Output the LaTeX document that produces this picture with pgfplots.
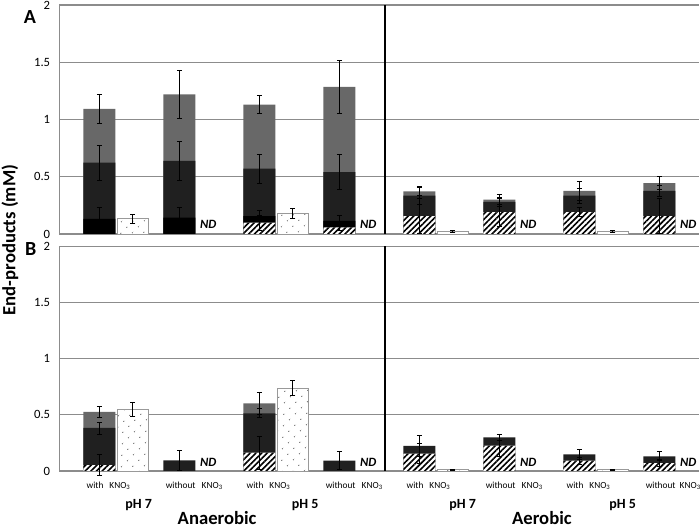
\documentclass[border=0pt]{standalone}
\usepackage{pgfplots}
\pgfplotsset{compat=1.18}
\usetikzlibrary{patterns.meta}
\usepackage{fontspec}
\setmainfont{Carlito}
\definecolor{topgray}{RGB}{104,104,104}
\definecolor{darkseg}{RGB}{32,32,32}
\definecolor{gridgray}{RGB}{140,140,140}
\pgfplotsset{
  panel/.style={
    scale only axis, width=480pt,
    xmin=-0.5, xmax=7.5, ymin=0, ymax=2,
    axis x line*=bottom, axis y line*=left,
    axis line style={gridgray, line width=0.8pt},
    xtick=\empty, ytick={0,0.5,1,1.5,2},
    ymajorgrids, major grid style={gridgray, line width=0.8pt},
    major tick length=0pt,
    yticklabel style={font=\fontsize{9.5}{10}\selectfont, xshift=-3.5pt},
    /pgf/number format/assume math mode=true,
    clip=false,
  },
  seg/.style={ybar, bar width=0.4, bar shift=0pt, draw=none},
  gseg/.style={seg, fill=topgray},
  dseg/.style={seg, fill=darkseg},
  bseg/.style={seg, fill=black},
  hseg/.style={seg, fill=white, postaction={pattern={Lines[angle=45,distance=3pt,line width=1.2pt]}, pattern color=black}},
  dotbar/.style={ybar, bar width=0.39, bar shift=0pt, fill=white, draw=gray!80, line width=0.6pt,
    postaction={pattern={Dots[distance=6.5pt,angle=45,radius=0.6pt]}, pattern color=black!60}},
  errs/.style={draw=none, mark=none,
    error bars/.cd, y dir=both, y explicit,
    error bar style={line width=0.6pt, draw=black, solid},
    error mark options={rotate=90, mark size=2pt, line width=0.6pt, draw=black}},
  sep/.style={black, line width=1.1pt, mark=none},
}
\newcommand{\ndlab}[1]{\node[font=\bfseries\itshape\fontsize{9.5}{9.5}\selectfont] at (axis cs:#1,0.08) {ND};}
\begin{document}
\begin{tikzpicture}
\useasboundingbox (0,0) rectangle (525pt,396pt);
\node[font=\bfseries\fontsize{15}{15}\selectfont] at (22.5pt,383.25pt) {A};
\node[font=\bfseries\fontsize{15}{15}\selectfont] at (23pt,209.25pt) {B};
\node[rotate=90,font=\bfseries\fontsize{14}{14}\selectfont] at (7.5pt,216pt) {End-products (mM)};

% ---------------- Panel A ----------------
\begin{axis}[panel, at={(44.625pt,220.5pt)}, anchor=south west, height=171.75pt]
\addplot[gseg] coordinates {(0,1.092)(1,1.22)(2,1.13)(3,1.284)(4,0.373)(5,0.30)(6,0.376)(7,0.445)};
\addplot[dseg] coordinates {(0,0.623)(1,0.638)(2,0.571)(3,0.541)(4,0.335)(5,0.28)(6,0.335)(7,0.376)};
\addplot[bseg] coordinates {(0,0.131)(1,0.143)(2,0.157)(3,0.114)};
\addplot[hseg] coordinates {(2,0.099)(3,0.058)(4,0.157)(5,0.19)(6,0.192)(7,0.157)};
\addplot[dotbar] coordinates {(0.415,0.134)(2.415,0.18)(4.415,0.02)(6.415,0.02)};
\addplot[errs] coordinates {
 (0,1.092)+-(0,0.125) (1,1.22)+-(0,0.21) (2,1.13)+-(0,0.08) (3,1.284)+-(0,0.235)
 (4,0.373)+-(0,0.04) (5,0.30)+-(0,0.045) (6,0.376)+-(0,0.08) (7,0.445)+-(0,0.055)
 (0,0.623)+-(0,0.155) (1,0.638)+-(0,0.17) (2,0.571)+-(0,0.125) (3,0.541)+-(0,0.155)
 (4,0.335)+-(0,0.075) (5,0.28)+-(0,0.04) (6,0.335)+-(0,0.065) (7,0.376)+-(0,0.05)
 (0,0.131)+-(0,0.10) (1,0.143)+-(0,0.09) (2,0.157)+-(0,0.045) (3,0.114)+-(0,0.045)
 (2,0.099)+-(0,0.065) (3,0.058)+-(0,0.03) (4,0.157)+-(0,0.15) (5,0.19)+-(0,0.12)
 (6,0.192)+-(0,0.04) (7,0.157)+-(0,0.15)
 (0.415,0.134)+-(0,0.038) (2.415,0.18)+-(0,0.04) (4.415,0.02)+-(0,0.01) (6.415,0.02)+-(0,0.008)
};
\addplot[sep] coordinates {(3.57,0)(3.57,2)};
\ndlab{1.36}\ndlab{3.36}\ndlab{5.36}\ndlab{7.36}
\end{axis}

% ---------------- Panel B ----------------
\begin{axis}[panel, at={(44.625pt,42.75pt)}, anchor=south west, height=168.4pt]
\addplot[gseg] coordinates {(0,0.526)(2,0.603)};
\addplot[dseg] coordinates {(0,0.383)(1,0.095)(2,0.514)(3,0.092)(4,0.223)(5,0.30)(6,0.149)(7,0.131)};
\addplot[hseg] coordinates {(0,0.053)(2,0.163)(4,0.155)(5,0.226)(6,0.092)(7,0.071)};
\addplot[dotbar] coordinates {(0.415,0.55)(2.415,0.737)(4.415,0.01)(6.415,0.01)};
\addplot[errs] coordinates {
 (0,0.526)+-(0,0.053) (2,0.603)+-(0,0.10)
 (0,0.383)+-(0,0.054) (1,0.095)+-(0,0.09) (2,0.514)+-(0,0.04) (3,0.092)+-(0,0.08)
 (4,0.223)+-(0,0.095) (5,0.30)+-(0,0.027) (6,0.149)+-(0,0.047) (7,0.131)+-(0,0.041)
 (0,0.053)+-(0,0.096) (2,0.163)+-(0,0.147) (4,0.155)+-(0,0.09) (5,0.226)+-(0,0.1)
 (6,0.092)+-(0,0.03) (7,0.071)+-(0,0.03)
 (0.415,0.55)+-(0,0.065) (2.415,0.737)+-(0,0.067) (4.415,0.01)+-(0,0.005) (6.415,0.01)+-(0,0.006)
};
\addplot[sep] coordinates {(3.57,0)(3.57,2)};
\ndlab{1.36}\ndlab{3.36}\ndlab{5.36}\ndlab{7.36}
% category labels
\begin{scope}[every node/.style={font=\fontsize{7}{8}\selectfont}]
\node at (axis cs:-0.056,0) [yshift=-11pt] {with};
\node at (axis cs:0.256,0) [yshift=-11pt] {KNO\textsubscript{3}};
\node at (axis cs:1.015,0) [yshift=-11pt] {without};
\node at (axis cs:1.41,0) [yshift=-11pt] {KNO\textsubscript{3}};
\node at (axis cs:1.944,0) [yshift=-11pt] {with};
\node at (axis cs:2.256,0) [yshift=-11pt] {KNO\textsubscript{3}};
\node at (axis cs:3.015,0) [yshift=-11pt] {without};
\node at (axis cs:3.41,0) [yshift=-11pt] {KNO\textsubscript{3}};
\node at (axis cs:3.944,0) [yshift=-11pt] {with};
\node at (axis cs:4.256,0) [yshift=-11pt] {KNO\textsubscript{3}};
\node at (axis cs:5.015,0) [yshift=-11pt] {without};
\node at (axis cs:5.41,0) [yshift=-11pt] {KNO\textsubscript{3}};
\node at (axis cs:5.944,0) [yshift=-11pt] {with};
\node at (axis cs:6.256,0) [yshift=-11pt] {KNO\textsubscript{3}};
\node at (axis cs:7.015,0) [yshift=-11pt] {without};
\node at (axis cs:7.385,0) [yshift=-11pt] {KNO\textsubscript{3}};
\end{scope}
\begin{scope}[every node/.style={font=\bfseries\fontsize{10.5}{12}\selectfont}]
\node at (axis cs:0.49,0) [yshift=-25.5pt] {pH 7};
\node at (axis cs:2.57,0) [yshift=-25.5pt] {pH 5};
\node at (axis cs:4.54,0) [yshift=-25.5pt] {pH 7};
\node at (axis cs:6.54,0) [yshift=-25.5pt] {pH 5};
\end{scope}
\node[font=\bfseries\fontsize{14}{16}\selectfont] at (axis cs:1.47,0) [yshift=-35pt] {Anaerobic};
\node[font=\bfseries\fontsize{14}{16}\selectfont] at (axis cs:5.53,0) [yshift=-35pt] {Aerobic};
\end{axis}
\end{tikzpicture}
\end{document}
